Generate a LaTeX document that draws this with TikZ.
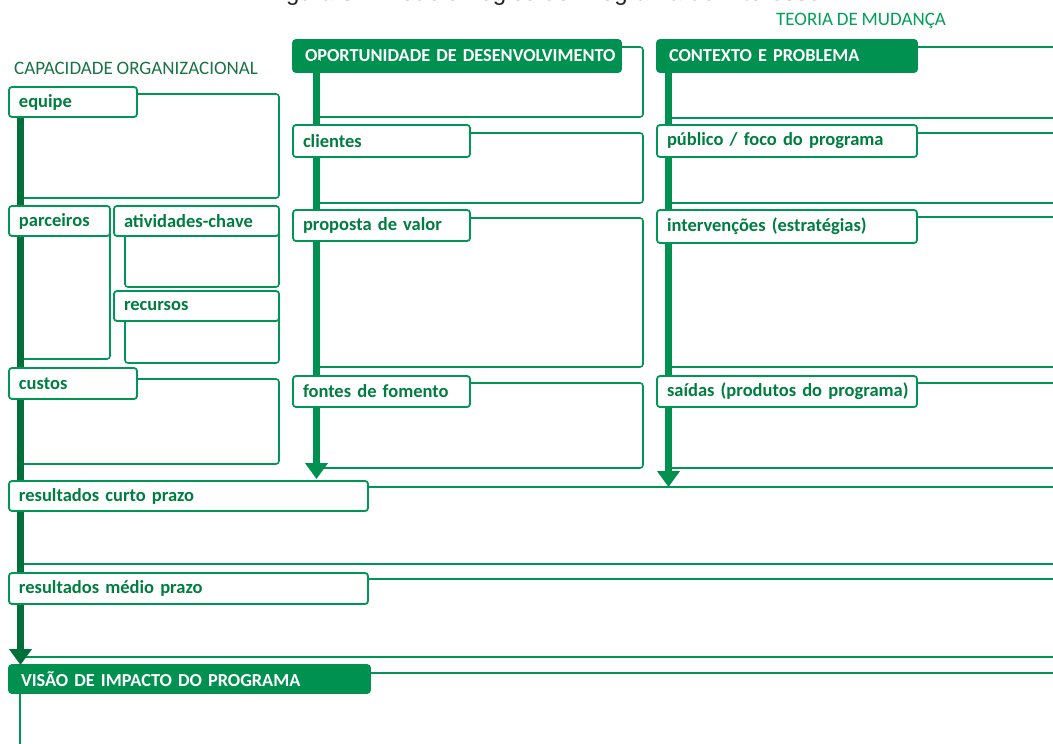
\documentclass[tikz,border=0pt]{standalone}
\usepackage{fontspec}
\setmainfont{Carlito}
\newfontfamily\arialf{Liberation Sans}
\usetikzlibrary{arrows.meta}
\definecolor{gline}{RGB}{0,150,85}
\definecolor{gfill}{RGB}{0,145,80}
\definecolor{gdark}{RGB}{0,112,58}
\definecolor{gtext}{RGB}{0,125,65}
\definecolor{gtitle}{RGB}{25,115,70}
\definecolor{gteoria}{RGB}{0,160,90}
\newcommand\tagfnt{\bfseries\fontsize{18.5}{21}\selectfont\spaceskip=0.2em\relax}
\newcommand\hdrfnt{\bfseries\fontsize{18.3}{21}\selectfont\spaceskip=0.2em\relax}
\newcommand\sectfnt{\fontsize{19}{22}\selectfont\spaceskip=0.2em\relax}
\begin{document}
\begin{tikzpicture}[x=1pt,y=-1pt,
  box/.style={draw=gline,line width=1.6pt,rounded corners=3pt},
  tag/.style={draw=gline,line width=1.8pt,fill=white,rounded corners=3pt,anchor=north west,
    inner xsep=10pt,inner ysep=0pt,outer sep=0pt,font=\tagfnt,
    text=gtext,align=left},
  hdr/.style={tag,draw=gfill,fill=gfill,text=white,inner xsep=12pt,font=\hdrfnt},
  barm/.style={line width=7pt,draw=gfill,-{Triangle[width=22pt,length=16pt]}},
  barl/.style={barm,draw=gdark},
  sect/.style={anchor=west,inner sep=0pt,font=\sectfnt}
]
\useasboundingbox (0,0) rectangle (1053,744);
\clip (0,0) rectangle (1053,744);
\fill[white] (0,0) rectangle (1053,744);

% figure title, cut off at the top edge as in the source
\node[anchor=base west,inner sep=0pt,font=\arialf\fontsize{24}{28}\selectfont,text=black!85] (title) at (266,0.5) {Figura 3 – Modelo Lógico do Programa de Interesse};

\node[sect,text=gtitle] (capac) at (14,68) {CAPACIDADE ORGANIZACIONAL};
\node[sect,text=gteoria] (teoria) at (776,21) {TEORIA DE MUDANÇA};

% content boxes
\draw[box] (20,94) rectangle (279,198);
\draw[box] (20,215) rectangle (110,359);
\draw[box] (125,225) rectangle (279,287);
\draw[box] (125,310) rectangle (279,363);
\draw[box] (20,379) rectangle (279,464);
\draw[box] (316,47) rectangle (643,117);
\draw[box] (316,133) rectangle (643,203);
\draw[box] (316,218) rectangle (643,367);
\draw[box] (316,383) rectangle (643,468);
\draw[box] (668,47) rectangle (1080,118);
\draw[box] (668,133) rectangle (1080,203);
\draw[box] (668,217) rectangle (1080,367);
\draw[box] (668,383) rectangle (1080,468);
\draw[box] (20,487) rectangle (1080,564);
\draw[box] (20,579) rectangle (1080,657);
\draw[box] (20,673) rectangle (1080,760);

% headers
\node[hdr,text width=304pt,minimum height=32pt] (oport) at (293,40) {\mbox{OPORTUNIDADE DE DESENVOLVIMENTO}};
\node[hdr,text width=236pt,minimum height=32pt] (contexto) at (657,40) {\mbox{CONTEXTO E PROBLEMA}};
\node[hdr,text width=337pt,minimum height=28pt] (visao) at (9,665) {\mbox{VISÃO DE IMPACTO DO PROGRAMA}};

% bars with arrows
\coordinate (Ls) at (20.5,100);
\coordinate (Ms) at (316.5,60);
\coordinate (Rs) at (668.5,60);
\coordinate (Rend) at (668.5,487);
\coordinate (Mend) at (316.5,479);
\draw[barl] (Ls) -- (Ls |- visao.north);
\draw[barm] (Ms) -- (Mend);
\draw[barm] (Rs) -- (Rend);

% tags
\node[tag,text width=108pt,minimum height=30pt] (equipe) at (9,87) {equipe};
\node[tag,text width=81pt,minimum height=30pt] (parceiros) at (9,206) {parceiros};
\node[tag,text width=145pt,minimum height=30pt] (ativ) at (114,206) {\mbox{atividades-chave}};
\node[tag,text width=145pt,minimum height=30pt] (recursos) at (114,291) {recursos};
\node[tag,text width=108pt,minimum height=31pt] (custos) at (9,368) {custos};
\node[tag,text width=339pt,minimum height=30pt] (curto) at (9,481) {\mbox{resultados curto prazo}};
\node[tag,text width=339pt,minimum height=31pt] (medio) at (9,573) {\mbox{resultados médio prazo}};
\node[tag,text width=157pt,minimum height=32pt] (clientes) at (293,125) {clientes};
\node[tag,text width=157pt,minimum height=31pt] (proposta) at (293,210) {\mbox{proposta de valor}};
\node[tag,text width=157pt,minimum height=31pt] (fontes) at (293,376) {\mbox{fontes de fomento}};
\node[tag,text width=240pt,minimum height=32pt] (publico) at (657,125) {\mbox{público / foco do programa}};
\node[tag,text width=240pt,minimum height=33pt] (interv) at (657,210) {\mbox{intervenções (estratégias)}};
\node[tag,text width=240pt,minimum height=31pt] (saidas) at (657,376) {\mbox{saídas (produtos do programa)}};
\end{tikzpicture}
\end{document}
